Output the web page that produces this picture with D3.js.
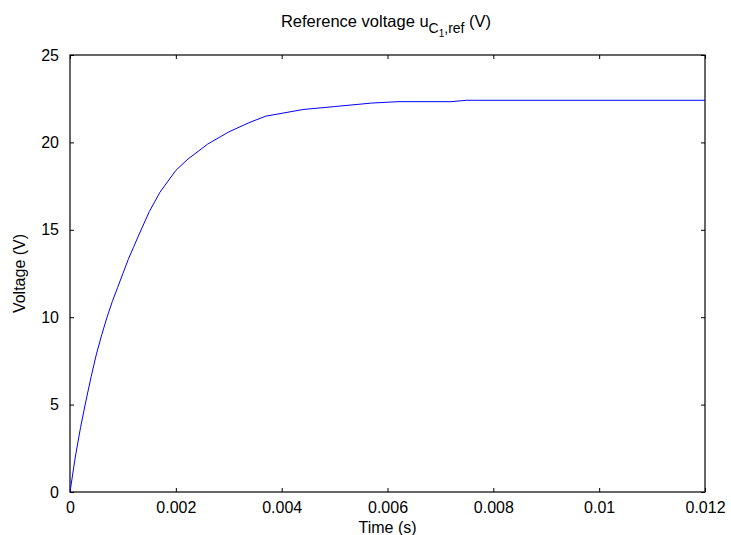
<!DOCTYPE html>
<html>
<head>
<meta charset="utf-8">
<script src="https://cdn.jsdelivr.net/npm/d3@7"></script>
<style>
  body { margin: 0; background: #fff; }
  text { font-family: "Liberation Sans", Arial, sans-serif; }
</style>
</head>
<body>
<div id="chart"><svg width="731" height="535"></svg></div>
<script>
// Data
let times = [0, 0.0001, 0.0002, 0.0003, 0.0004, 0.0005, 0.0006, 0.0007, 0.0008, 0.0009,
  0.0010, 0.0011, 0.0012, 0.0013, 0.0015, 0.0017, 0.0020, 0.00223, 0.0026, 0.0030,
  0.0034, 0.0037, 0.0044, 0.0050, 0.0057, 0.0062, 0.0072, 0.0075, 0.012];
let voltages = [0, 2.0, 3.7, 5.2, 6.6, 7.9, 9.0, 10.0, 10.9, 11.7,
  12.5, 13.3, 14.0, 14.7, 16.05, 17.15, 18.4, 19.05, 19.9, 20.6,
  21.15, 21.5, 21.88, 22.05, 22.25, 22.33, 22.33, 22.41, 22.41];
let xTicks = [0, 0.002, 0.004, 0.006, 0.008, 0.01, 0.012];
let yTicks = [0, 5, 10, 15, 20, 25];

let svg = d3.select("div#chart svg"),
  margin = { top: 55, right: 26, bottom: 43, left: 70 },
  width = svg.attr("width") - margin.left - margin.right,
  height = svg.attr("height") - margin.top - margin.bottom,
  g = svg.append("g").attr("transform", "translate(" + margin.left + "," + margin.top + ")");

let x = d3.scaleLinear().domain([0, 0.012]).range([0, width]);
let y = d3.scaleLinear().domain([0, 25]).range([height, 0]);

let fmt = d => d === 0 ? "0" : String(+d.toFixed(3));

// Axes (MATLAB style: inward ticks on all four sides)
function styleAxis(sel) {
  sel.select(".domain").remove();
  sel.selectAll("line").attr("stroke", "#000");
  sel.selectAll("text").style("font-size", "16px").attr("fill", "#000");
}

g.append("g")
  .attr("transform", "translate(0," + height + ")")
  .call(d3.axisBottom(x).tickValues(xTicks).tickFormat(fmt).tickSizeInner(-4).tickSizeOuter(0).tickPadding(10))
  .call(styleAxis);

g.append("g")
  .call(d3.axisTop(x).tickValues(xTicks).tickFormat("").tickSizeInner(-4).tickSizeOuter(0))
  .call(styleAxis);

g.append("g")
  .call(d3.axisLeft(y).tickValues(yTicks).tickSizeInner(-4).tickSizeOuter(0).tickPadding(11))
  .call(styleAxis);

g.append("g")
  .attr("transform", "translate(" + width + ",0)")
  .call(d3.axisRight(y).tickValues(yTicks).tickFormat("").tickSizeInner(-4).tickSizeOuter(0))
  .call(styleAxis);

// Box
g.append("rect")
  .attr("width", width)
  .attr("height", height)
  .attr("fill", "none")
  .attr("stroke", "#000")
  .attr("stroke-width", 1.2);

// Curve
let points = times.map((t, i) => [t, voltages[i]]);
g.append("path")
  .datum(points)
  .attr("fill", "none")
  .attr("stroke", "#0000ff")
  .attr("stroke-width", 1)
  .attr("d", d3.line().x(d => x(d[0])).y(d => y(d[1])));

// Title with subscripts
let title = svg.append("text")
  .attr("x", 386)
  .attr("y", 27)
  .attr("text-anchor", "middle")
  .style("font-size", "16.5px")
  .attr("fill", "#000");
title.append("tspan").text("Reference voltage u");
title.append("tspan").attr("dy", 6).style("font-size", "14px").text("C");
title.append("tspan").attr("dy", 4).style("font-size", "10px").text("1");
title.append("tspan").attr("dy", -4).style("font-size", "14px").text(",ref");
title.append("tspan").attr("dy", -6).style("font-size", "16.5px").text("\u00a0(V)");

// Axis labels
svg.append("text")
  .attr("x", margin.left + width / 2)
  .attr("y", 533)
  .attr("text-anchor", "middle")
  .style("font-size", "16px")
  .text("Time (s)");

svg.append("text")
  .attr("transform", "rotate(-90)")
  .attr("x", -(margin.top + height / 2))
  .attr("y", 25)
  .attr("text-anchor", "middle")
  .style("font-size", "16px")
  .text("Voltage (V)");
</script>
</body>
</html>
